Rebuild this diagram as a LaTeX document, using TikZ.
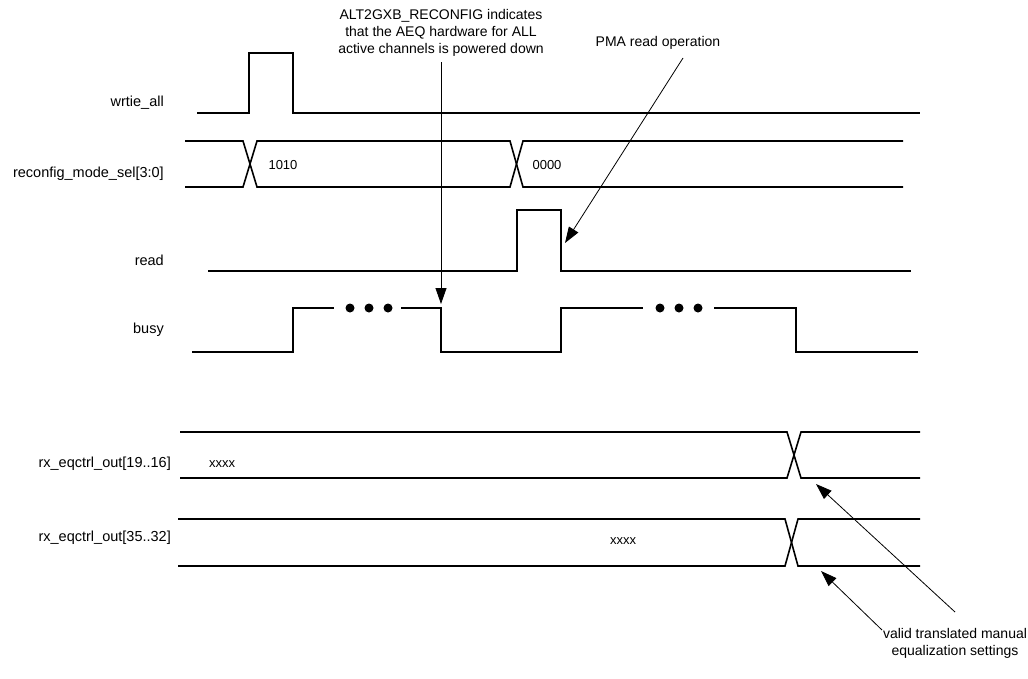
\documentclass[tikz,border=0pt]{standalone}
\usepackage{fontspec}
\setmainfont{Liberation Sans}
\usetikzlibrary{arrows.meta}

\begin{document}
\begin{tikzpicture}[x=1pt, y=-1pt,
        jel/.style={line width=1.6pt},
        nyil/.style={line width=0.8pt, -{Triangle[length=16pt, width=11pt]}},
        cimke/.style={anchor=east, inner sep=0pt, font=\fontsize{14.5}{16}\selectfont},
        ertek/.style={inner sep=0pt, font=\fontsize{13}{16}\selectfont},
        megj/.style={align=center, inner sep=0pt, font=\fontsize{14}{17}\selectfont}]
    \useasboundingbox (0,0) rectangle (1028,678);

    % 1. Jelnevek a bal oldalon
    \node[cimke] (n-wr)   at (164,103) {wrtie\_all};
    \node[cimke] (n-mode) at (164,174) {reconfig\_mode\_sel[3:0]};
    \node[cimke] (n-read) at (164,260) {read};
    \node[cimke] (n-busy) at (164,330) {busy};
    \node[cimke] (n-rx1)  at (171,464) {rx\_eqctrl\_out[19..16]};
    \node[cimke] (n-rx2)  at (171,538) {rx\_eqctrl\_out[35..32]};

    % 2. Hullamformak
    \draw[jel] (197,113) -- (249,113) -- (249,53) -- (293,53) -- (293,113) -- (920,113);
    \draw[jel] (185,141) -- (243,141) -- (257,187) -- (510,187) -- (523,141) -- (903,141);
    \draw[jel] (185,187) -- (243,187) -- (257,141) -- (510,141) -- (523,187) -- (903,187);
    \node[ertek] (v-1010) at (283,165) {1010};
    \node[ertek] (v-0000) at (547,165) {0000};
    \draw[jel] (208,271) -- (517,271) -- (517,210) -- (561,210) -- (561,271) -- (911,271);
    \draw[jel] (192,352) -- (293,352) -- (293,308) -- (334,308);
    \foreach \x in {350,369,388} \fill (\x,308) circle (4.5pt);
    \draw[jel] (401,308) -- (441,308) -- (441,352) -- (561,352) -- (561,308) -- (643,308);
    \foreach \x in {660,679,698} \fill (\x,308) circle (4.5pt);
    \draw[jel] (714,308) -- (796,308) -- (796,352) -- (918,352);

    % 3. A ket rx busz
    \draw[jel] (180,432) -- (787,432) -- (801,478) -- (920,478);
    \draw[jel] (180,478) -- (787,478) -- (801,432) -- (920,432);
    \node[ertek] (v-rx1) at (222,464) {xxxx};
    \draw[jel] (178,519) -- (785,519) -- (798,566) -- (920,566);
    \draw[jel] (178,566) -- (785,566) -- (798,519) -- (920,519);
    \node[ertek] (v-rx2) at (623,541) {xxxx};

    % 4. Megjegyzesek es nyilak
    \node[megj, anchor=south] (m-aeq) at (441,57)
        {ALT2GXB\_RECONFIG indicates\\that the AEQ hardware for ALL\\active channels is powered down};
    \node[megj, anchor=south] (m-pma) at (658,50) {PMA read operation};
    \node[megj, anchor=north] (m-valid) at (955,628) {valid translated manual\\equalization settings};

    \coordinate (c-aeq) at (441,304);
    \coordinate (c-pma) at (565,243);
    \coordinate (c-rx1) at (816,484);
    \coordinate (c-rx2) at (821,571);

    \draw[nyil] ([yshift=-5pt]m-aeq.south) -- (c-aeq);
    \draw[nyil] ([xshift=25pt, yshift=-8pt]m-pma.south) -- (c-pma);
    \draw[nyil] ([yshift=16pt]m-valid.north) -- (c-rx1);
    \draw[nyil] ([xshift=-73pt, yshift=-2pt]m-valid.north) -- (c-rx2);
\end{tikzpicture}
\end{document}
